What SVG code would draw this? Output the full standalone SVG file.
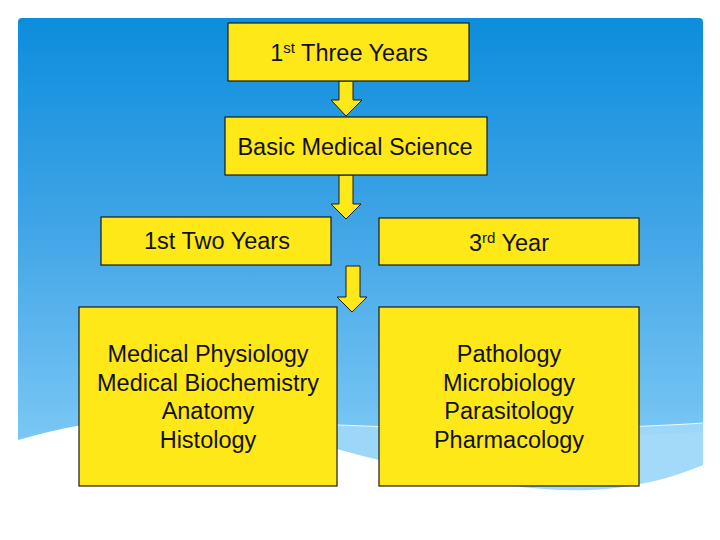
<svg xmlns="http://www.w3.org/2000/svg" width="720" height="540" viewBox="0 0 720 540">
<defs>
<linearGradient id="bg" x1="0" y1="18" x2="0" y2="470" gradientUnits="userSpaceOnUse">
<stop offset="0" stop-color="#0C8DDC"/>
<stop offset="0.45" stop-color="#3FA4E6"/>
<stop offset="1" stop-color="#82CCF7"/>
</linearGradient>
<style>
.box{fill:#FFE817;stroke:#1a1a1a;stroke-width:1.2}
.arr{fill:#FFE817;stroke:#1a1a1a;stroke-width:1}
.t{font-family:"Liberation Sans",Arial,sans-serif;font-size:23.5px;fill:#111;text-anchor:middle}
.sup{font-size:15px}
</style>
</defs>
<rect x="0" y="0" width="720" height="540" fill="#fff"/>
<rect x="18" y="18" width="685" height="480" rx="4" fill="url(#bg)"/>
<path d="M18,500 L18,445 C120,418 250,420 337,425 C450,430 600,430 703,423 L703,500 Z" fill="#9CD6F8"/>
<path d="M400,440 C500,436 600,438 703,432 L703,500 L400,500 Z" fill="#A8DCF9" opacity="0.7"/>
<path d="M80,425 C180,420 260,422 337,425 C450,430 600,430 703,423" fill="none" stroke="#EAF6FE" stroke-width="1.2"/>
<path d="M18,440 C60,428 100,420 150,418 C230,416 300,440 379,460 C460,480 530,492 590,490 C640,488 680,475 703,465 L703,540 L18,540 Z" fill="#fff"/>
<g id="connectors">
<path class="arr" d="M339,81 L353,81 L353,100 L362,100 L346,116 L331,100 L339,100 Z"/>
<path class="arr" d="M339,175 L353,175 L353,204 L361,204 L346,219 L331,204 L339,204 Z"/>
<path class="arr" d="M346,266 L360,266 L360,297 L367,297 L352,312 L337,297 L346,297 Z"/>
</g>
<g id="node-three-years">
<rect class="box" x="228" y="23" width="241" height="58"/>
<text class="t" x="349" y="61">1<tspan class="sup" dy="-8">st</tspan><tspan dy="8"> Three Years</tspan></text>
</g>
<g id="node-basic">
<rect class="box" x="225" y="117" width="262" height="58"/>
<text class="t" x="355" y="155">Basic Medical Science</text>
</g>
<g id="node-two-years">
<rect class="box" x="101" y="217" width="230" height="48"/>
<text class="t" x="217" y="249">1st Two Years</text>
</g>
<g id="node-third-year">
<rect class="box" x="379" y="218" width="260" height="47"/>
<text class="t" x="509" y="251">3<tspan class="sup" dy="-8">rd</tspan><tspan dy="8"> Year</tspan></text>
</g>
<g id="node-left-subjects">
<rect class="box" x="79" y="307" width="258" height="179"/>
<text class="t" x="208" y="362">Medical Physiology</text>
<text class="t" x="208" y="390.5">Medical Biochemistry</text>
<text class="t" x="208" y="419">Anatomy</text>
<text class="t" x="208" y="447.5">Histology</text>
</g>
<g id="node-right-subjects">
<rect class="box" x="379" y="307" width="260" height="179"/>
<text class="t" x="509" y="362">Pathology</text>
<text class="t" x="509" y="390.5">Microbiology</text>
<text class="t" x="509" y="419">Parasitology</text>
<text class="t" x="509" y="447.5">Pharmacology</text>
</g>
</svg>
